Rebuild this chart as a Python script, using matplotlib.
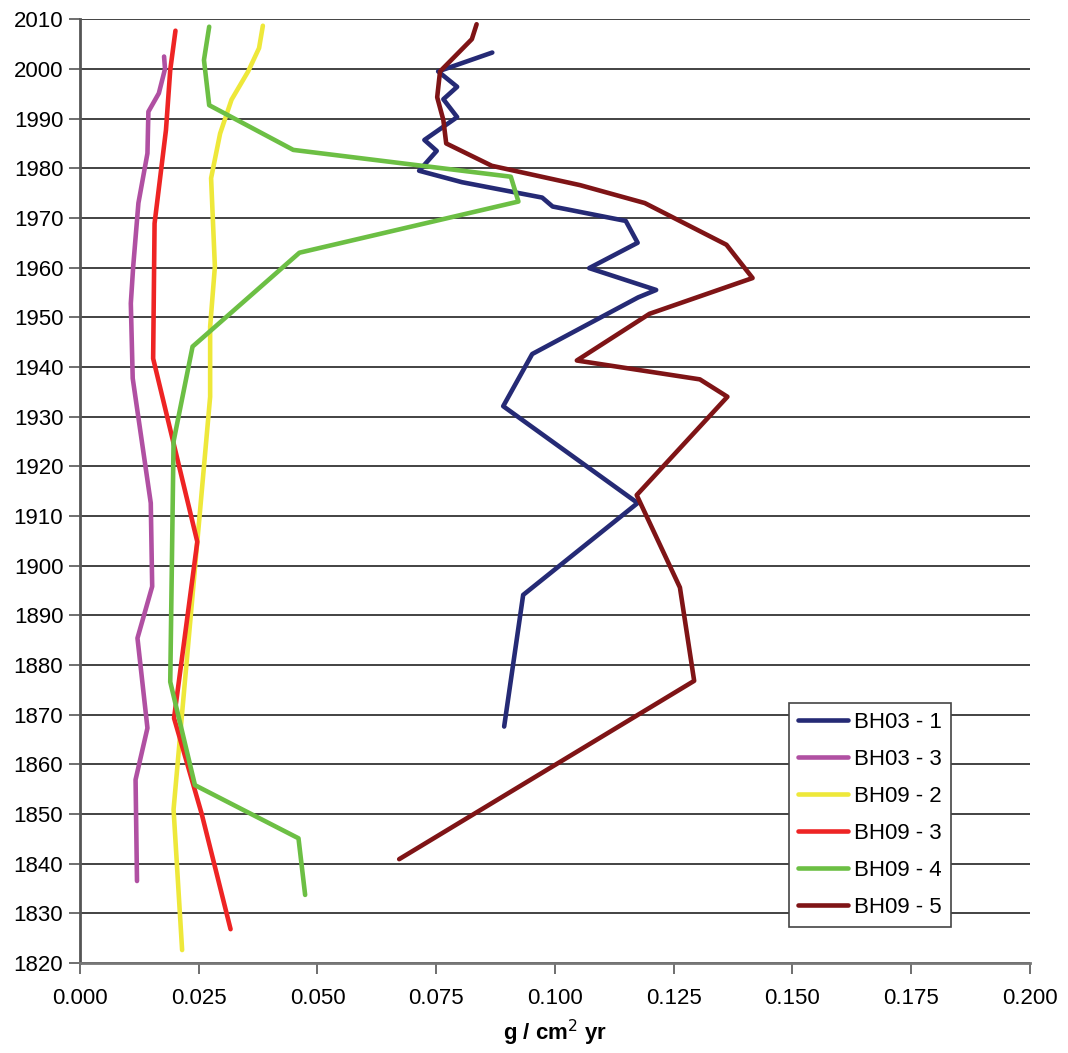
import matplotlib
matplotlib.use("Agg")
import matplotlib.pyplot as plt

plt.rcParams['font.family'] = ['Liberation Sans', 'DejaVu Sans']

# series: (value g/cm2 yr, year)
bh03_1_x = [0.0868, 0.0754, 0.0794, 0.0765, 0.0794, 0.0725, 0.0751, 0.0714, 0.0804,
            0.0973, 0.0995, 0.1149, 0.1174, 0.1072, 0.1213, 0.1175, 0.0952, 0.0891,
            0.1174, 0.0933, 0.0893]
bh03_1_y = [2003.3, 1999.5, 1996.4, 1993.9, 1990.3, 1985.7, 1983.5, 1979.5, 1977.2,
            1974.1, 1972.3, 1969.4, 1965.0, 1959.9, 1955.5, 1954.0, 1942.6, 1932.1,
            1912.6, 1894.1, 1867.6]

bh03_3_x = [0.0177, 0.0179, 0.0166, 0.0144, 0.0142, 0.0123, 0.0112, 0.0107, 0.0111,
            0.0149, 0.0152, 0.0121, 0.0142, 0.0117, 0.0120]
bh03_3_y = [2002.5, 2000.0, 1995.1, 1991.4, 1983.0, 1973.0, 1960.2, 1952.8, 1937.7,
            1912.6, 1895.8, 1885.4, 1867.3, 1856.9, 1836.5]

bh09_2_x = [0.0385, 0.0377, 0.0354, 0.0319, 0.0295, 0.0276, 0.0284, 0.0274, 0.0274,
            0.0197, 0.0215]
bh09_2_y = [2008.7, 2004.2, 1999.5, 1993.8, 1987.0, 1978.0, 1960.2, 1948.1, 1934.0,
            1850.9, 1822.6]

bh09_3_x = [0.0201, 0.0190, 0.0181, 0.0157, 0.0154, 0.0247, 0.0198, 0.0256, 0.0317]
bh09_3_y = [2007.7, 1999.8, 1987.7, 1968.9, 1941.7, 1904.8, 1869.3, 1850.1, 1826.8]

bh09_4_x = [0.0272, 0.0261, 0.0272, 0.0449, 0.0907, 0.0923, 0.0462, 0.0237, 0.0197,
            0.0190, 0.0242, 0.0460, 0.0474]
bh09_4_y = [2008.5, 2001.8, 1992.7, 1983.7, 1978.3, 1973.3, 1963.0, 1944.1, 1925.0,
            1876.6, 1855.8, 1845.1, 1833.7]

bh09_5_x = [0.0835, 0.0825, 0.0758, 0.0752, 0.0765, 0.0771, 0.0867, 0.1053, 0.1189,
            0.1361, 0.1416, 0.1199, 0.1046, 0.1305, 0.1363, 0.1172, 0.1263, 0.1293,
            0.0672]
bh09_5_y = [2009.0, 2006.0, 1999.5, 1994.3, 1989.7, 1985.0, 1980.5, 1976.6, 1973.0,
            1964.6, 1957.9, 1950.7, 1941.3, 1937.5, 1934.0, 1914.2, 1895.6, 1876.8,
            1840.9]

x_ticks = [0.0, 0.025, 0.05, 0.075, 0.1, 0.125, 0.15, 0.175, 0.2]
y_ticks = list(range(1820, 2011, 10))

fig = plt.figure(figsize=(10.68, 10.53), dpi=100)
ax = fig.add_axes([0.0749, 0.0855, 0.8895, 0.8962])

lw = 3.3
ax.plot(bh03_1_x, bh03_1_y, color='#252A75', lw=lw, label='BH03 - 1', solid_capstyle='round')
ax.plot(bh03_3_x, bh03_3_y, color='#B050A2', lw=lw, label='BH03 - 3', solid_capstyle='round')
ax.plot(bh09_2_x, bh09_2_y, color='#EEE83A', lw=lw, label='BH09 - 2', solid_capstyle='round')
ax.plot(bh09_3_x, bh09_3_y, color='#EE2424', lw=lw, label='BH09 - 3', solid_capstyle='round')
ax.plot(bh09_4_x, bh09_4_y, color='#6CBF44', lw=lw, label='BH09 - 4', solid_capstyle='round')
ax.plot(bh09_5_x, bh09_5_y, color='#7F1416', lw=lw, label='BH09 - 5', solid_capstyle='round')

ax.set_xlim(0, 0.2)
ax.set_ylim(1820, 2010)
ax.set_xticks(x_ticks)
ax.set_xticklabels(['%.3f' % v for v in x_ticks])
ax.set_yticks(y_ticks)
ax.tick_params(labelsize=16, length=8, width=1.2, color='#555555')
ax.tick_params(axis='y', pad=4)
ax.tick_params(axis='x', pad=10)
ax.grid(axis='y', color='#222222', lw=1.2)
ax.set_axisbelow(True)

for s in ['top', 'right']:
    ax.spines[s].set_visible(False)
ax.spines['left'].set_color('#555555')
ax.spines['bottom'].set_color('#777777')
ax.spines['left'].set_linewidth(2)
ax.spines['bottom'].set_linewidth(2)

ax.set_xlabel('g / cm$^{2}$ yr', fontsize=16, fontweight='bold', labelpad=6)

leg = ax.legend(loc='upper left', bbox_to_anchor=(0.746, 0.2755), fontsize=16,
                frameon=True, fancybox=False, edgecolor='#444444', framealpha=1,
                handlelength=2.25, labelspacing=0.72, borderpad=0.4,
                handletextpad=0.3, borderaxespad=0)
leg.get_frame().set_linewidth(1.2)

fig.savefig('out.png', dpi=100)
